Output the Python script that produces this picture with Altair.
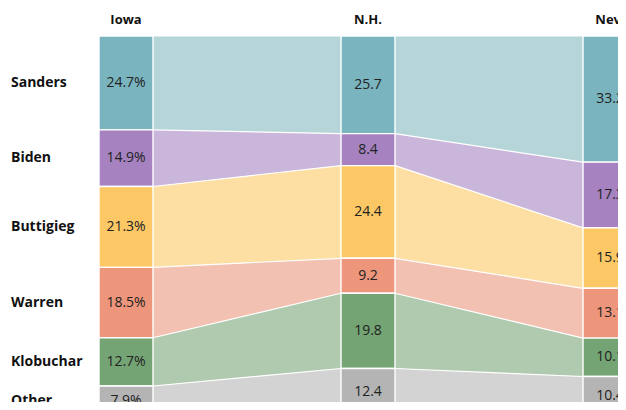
import altair as alt
import pandas as pd

states = ["Iowa", "N.H.", "Nev."]
candidates = ["Sanders", "Biden", "Buttigieg", "Warren", "Klobuchar", "Other"]
iowa = [24.7, 14.9, 21.3, 18.5, 12.7, 7.9]
nh = [25.7, 8.4, 24.4, 9.2, 19.8, 12.4]
nev = [33.2, 17.3, 15.9, 13.1, 10.1, 10.4]
bar_colors = ["#79b4bf", "#a683c0", "#fcc865", "#ee967b", "#74a474", "#b4b4b4"]
area_colors = ["#b5d5d9", "#cbb6db", "#fddfa4", "#f3c1b1", "#afcaaf", "#d3d3d3"]

FONT = "Open Sans"
W, H = 610, 394
px_per_unit = 242.0
x0_center = 118.0
px_per_pct = 3.8
y_top = 28.0
hw = 27.0 / px_per_unit

x_dom = [-x0_center / px_per_unit, (W - x0_center) / px_per_unit]
y_dom = [-y_top / px_per_pct, (H - y_top) / px_per_pct]

rows = []
for si, vals in enumerate([iowa, nh, nev]):
    cum = 0.0
    for ci, v in enumerate(vals):
        rows.append(dict(state=states[si], si=si, cand=candidates[ci], ci=ci,
                         y0=float(cum), y1=float(cum + v), mid=float(cum + v / 2),
                         xl=float(si - hw), xr=float(si + hw),
                         label=(f"{v}%" if si == 0 else f"{v}")))
        cum += v
df = pd.DataFrame(rows)

area_rows = []
for ci, c in enumerate(candidates):
    for si in range(len(states) - 1):
        a = rows[si * len(candidates) + ci]
        b = rows[(si + 1) * len(candidates) + ci]
        area_rows.append(dict(cand=c, seg=f"{c}{si}", px=float(si + hw), lo=a["y0"], hi=a["y1"]))
        area_rows.append(dict(cand=c, seg=f"{c}{si}", px=float(si + 1 - hw), lo=b["y0"], hi=b["y1"]))
adf = pd.DataFrame(area_rows)

xs = alt.Scale(domain=x_dom, nice=False, zero=False)
ys = alt.Scale(domain=y_dom, nice=False, zero=False, reverse=True)

areas = alt.Chart(adf).mark_area(opacity=1).encode(
    x=alt.X("px:Q", scale=xs, axis=None),
    y=alt.Y("lo:Q", scale=ys, axis=None, stack=None),
    y2="hi:Q",
    detail="seg:N",
    color=alt.Color("cand:N", scale=alt.Scale(domain=candidates, range=area_colors), legend=None),
)

seps = alt.Chart(adf).mark_line(color="white", strokeWidth=1.2).encode(
    x=alt.X("px:Q", scale=xs, axis=None),
    y=alt.Y("lo:Q", scale=ys, axis=None, stack=None),
    detail="seg:N",
)

bars = alt.Chart(df).mark_rect(stroke="white", strokeWidth=1.4, clip=True).encode(
    x=alt.X("xl:Q", scale=xs, axis=None),
    x2="xr:Q",
    y=alt.Y("y0:Q", scale=ys, axis=None),
    y2="y1:Q",
    fill=alt.Fill("cand:N", scale=alt.Scale(domain=candidates, range=bar_colors), legend=None),
)

values = alt.Chart(df).mark_text(font=FONT, fontSize=14, color="#222222", align="center",
                                 baseline="middle").encode(
    x=alt.X("si:Q", scale=xs, axis=None),
    y=alt.Y("mid:Q", scale=ys, axis=None),
    text="label:N",
)

hdr_df = pd.DataFrame({"state": states, "si": list(range(len(states)))})
headers = alt.Chart(hdr_df).mark_text(font=FONT, fontSize=13, fontWeight="bold", color="#111111",
                                      align="center", baseline="middle").encode(
    x=alt.X("si:Q", scale=xs, axis=None),
    y=alt.value(12),
    text="state:N",
)

names = alt.Chart(df[df.si == 0]).mark_text(font=FONT, fontSize=14, fontWeight="bold", color="#111111",
                                            align="left", baseline="middle").encode(
    x=alt.value(3),
    y=alt.Y("mid:Q", scale=ys, axis=None),
    text="cand:N",
)

chart = alt.layer(areas, seps, bars, values, headers, names).properties(
    width=W, height=H, padding=0, autosize=alt.AutoSizeParams(type="none")
).resolve_scale(color="independent", fill="independent").configure_view(stroke=None)

chart.save("out.html", embed_options={"renderer": "svg", "actions": False})
